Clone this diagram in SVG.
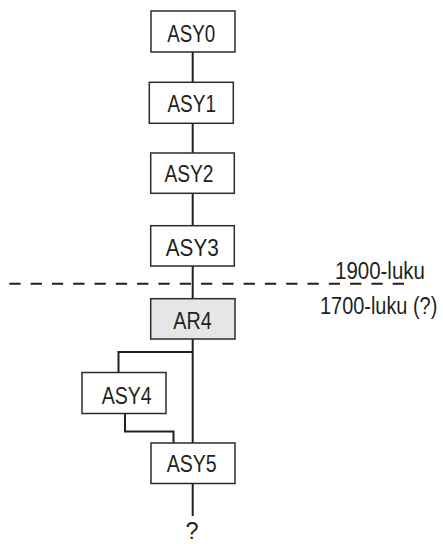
<svg xmlns="http://www.w3.org/2000/svg" width="443" height="544" viewBox="0 0 443 544">
<style>
.box{fill:#ffffff;stroke:#2b2b2b;stroke-width:1.5}
.gray{fill:#e6e6e6}
.lbl{font-family:"Liberation Sans",Arial,sans-serif;font-size:23.5px;fill:#231f20;text-anchor:middle}
.note{font-family:"Liberation Sans",Arial,sans-serif;font-size:23.5px;fill:#231f20}
.conn{fill:none;stroke:#231f20;stroke-width:2}
</style>
<rect width="443" height="544" fill="#ffffff"/>
<g id="connectors">
<line class="conn" x1="192.7" y1="52" x2="192.7" y2="443"/>
<line class="conn" x1="192.7" y1="483.5" x2="192.7" y2="516"/>
<polyline class="conn" points="192.7,352 118.5,352 118.5,372.5"/>
<polyline class="conn" points="125,413.5 125,431.5 173.5,431.5 173.5,443"/>
</g>
<g id="divider">
<line x1="9.3" y1="283.7" x2="404.6" y2="283.7" stroke="#231f20" stroke-width="2" stroke-dasharray="11.3 10"/>
<text class="note" transform="translate(335,278.7) scale(0.872,1)" x="0" y="0">1900-luku</text>
<text class="note" transform="translate(320,314.3) scale(0.848,1)" x="0" y="0">1700-luku (?)</text>
</g>
<g id="ASY0">
<rect class="box" x="151" y="11" width="84" height="41"/>
<text class="lbl" x="191.2" y="41.7" textLength="48" lengthAdjust="spacingAndGlyphs">ASY0</text>
</g>
<g id="ASY1">
<rect class="box" x="149.3" y="82.3" width="84" height="41"/>
<text class="lbl" x="191.7" y="112" textLength="48.5" lengthAdjust="spacingAndGlyphs">ASY1</text>
</g>
<g id="ASY2">
<rect class="box" x="150.7" y="153" width="83.6" height="40.3"/>
<text class="lbl" x="189" y="182" textLength="49" lengthAdjust="spacingAndGlyphs">ASY2</text>
</g>
<g id="ASY3">
<rect class="box" x="150.7" y="225.7" width="83.6" height="40.3"/>
<text class="lbl" x="192.3" y="255.7" textLength="53" lengthAdjust="spacingAndGlyphs">ASY3</text>
</g>
<g id="AR4">
<rect class="box gray" x="150.7" y="298.7" width="84.3" height="40.3"/>
<text class="lbl" x="192.5" y="329.3" textLength="38.4" lengthAdjust="spacingAndGlyphs">AR4</text>
</g>
<g id="ASY4">
<rect class="box" x="82" y="372.5" width="84" height="41"/>
<text class="lbl" x="126.7" y="404" textLength="50" lengthAdjust="spacingAndGlyphs">ASY4</text>
</g>
<g id="ASY5">
<rect class="box" x="151" y="443" width="84" height="40.5"/>
<text class="lbl" x="191.7" y="472" textLength="50" lengthAdjust="spacingAndGlyphs">ASY5</text>
</g>
<g id="unknown">
<text class="lbl" x="192" y="539">?</text>
</g>
</svg>
